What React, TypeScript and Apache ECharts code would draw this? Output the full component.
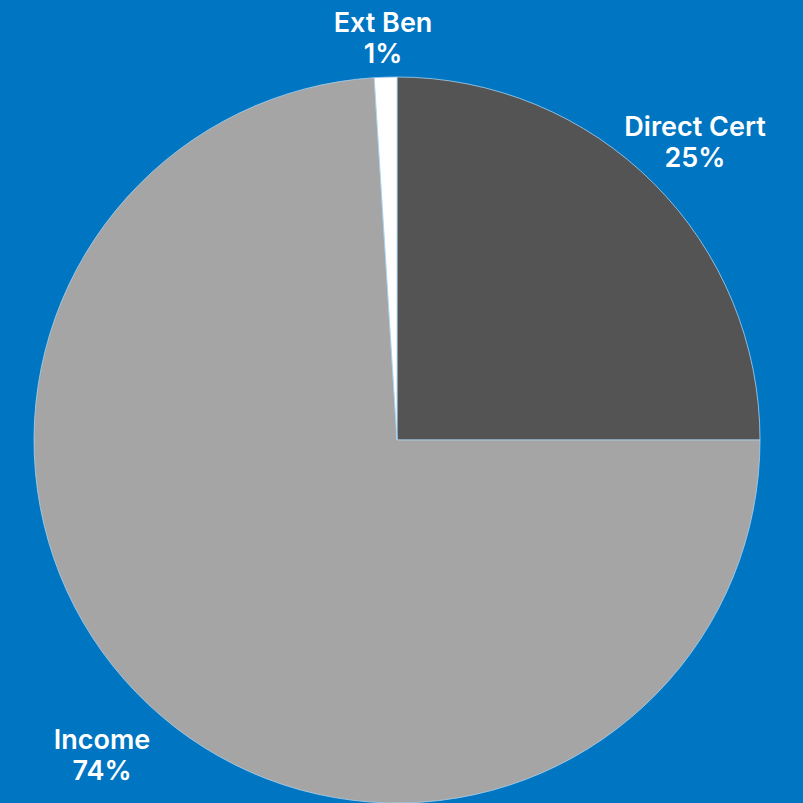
import React, { useEffect, useRef } from "react";
import * as echarts from "echarts";

const categories = ["Direct Cert", "Income", "Ext Ben"];
const values = [25, 74, 1];
const colors = ["#545454", "#A5A5A5", "#FFFFFF"];
const labelAnchors: Record<string, [number, number]> = {
  "Direct Cert": [695, 142],
  Income: [102, 755],
  "Ext Ben": [383, 38],
};

export default function App() {
  const ref = useRef<HTMLDivElement>(null);
  useEffect(() => {
    document.body.style.margin = "0";
    if (!ref.current) return;
    const chart = echarts.init(ref.current, undefined, { renderer: "svg" });
    chart.setOption({
      animation: false,
      backgroundColor: "#0075C2",
      series: [
        {
          type: "pie",
          center: [397, 440],
          radius: 363,
          startAngle: 90,
          clockwise: true,
          data: categories.map((c, i) => ({
            name: c,
            value: values[i],
            itemStyle: { color: colors[i] },
          })),
          itemStyle: { borderColor: "#A8D0EC", borderWidth: 0.8 },
          label: {
            show: true,
            formatter: "{b}\n{d}%",
            color: "#FFFFFF",
            fontFamily: "Inter",
            fontWeight: 600,
            fontSize: 27,
            lineHeight: 31,
            align: "center",
            overflow: "none",
            width: 300,
          },
          labelLine: { show: false },
          labelLayout: (params: any) => {
            const name = categories[params.dataIndex];
            const p = labelAnchors[name];
            return { x: p[0], y: p[1], align: "center", verticalAlign: "middle" };
          },
          emphasis: { disabled: true },
        },
      ],
    });
    return () => chart.dispose();
  }, []);
  return <div ref={ref} style={{ width: 803, height: 803 }} />;
}
